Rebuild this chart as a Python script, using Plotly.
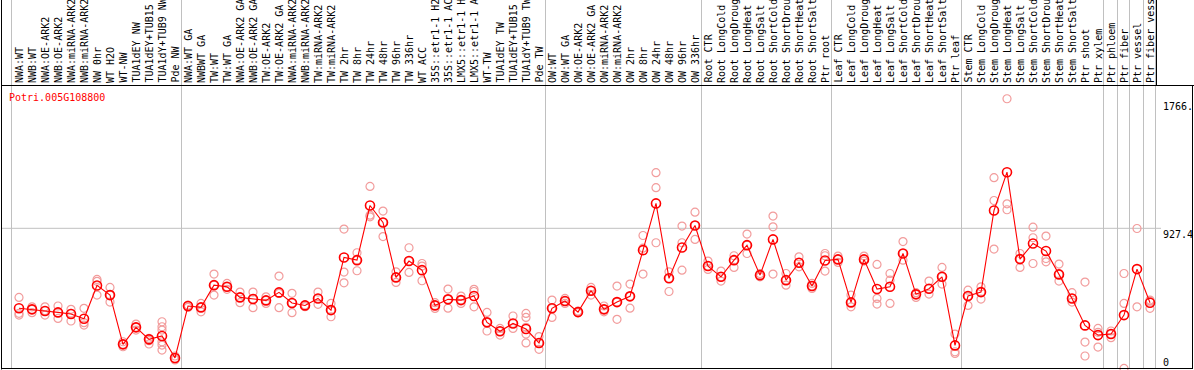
import plotly.graph_objects as go

# ---------------- data ----------------
title = "Potri.005G108800"

categories = [
    "NWA:WT", "NWB:WT", "NWA:OE-ARK2", "NWB:OE-ARK2", "NWA:miRNA-ARK2", "NWB:miRNA-ARK2",
    "NW 0hr", "WT H2O", "WT-NW", "TUA1dEY NW", "TUA1dEY+TUB15 NW", "TUA1dY+TUB9 NW", "Pde NW",
    "NWA:WT GA", "NWBWT GA", "TW:WT", "TW:WT GA", "NWA:OE-ARK2 GA", "NWB:OE-ARK2 GA",
    "TW:OE-ARK2", "TW:OE-ARK2 GA", "NWA:miRNA-ARK2 GA", "NWB:miRNA-ARK2 GA", "TW:miRNA-ARK2",
    "TW:miRNA-ARK2 GA", "TW 2hr", "TW 8hr", "TW 24hr", "TW 48hr", "TW 96hr", "TW 336hr",
    "WT ACC", "35S::etr1-1 H2O", "35S::etr1-1 ACC", "LMX5::etr1-1 H2O", "LMX5::etr1-1 ACC",
    "WT-TW", "TUA1dEY TW", "TUA1dEY+TUB15 TW", "TUA1dY+TUB9 TW", "Pde TW",
    "OW:WT", "OW:WT GA", "OW:OE-ARK2", "OW:OE-ARK2 GA", "OW:miRNA-ARK2", "OW:miRNA-ARK2 GA",
    "OW 2hr", "OW 8hr", "OW 24hr", "OW 48hr", "OW 96hr", "OW 336hr",
    "Root CTR", "Root LongCold", "Root LongDrought", "Root LongHeat", "Root LongSalt",
    "Root ShortCold", "Root ShortDrought", "Root ShortHeat", "Root ShortSalt", "Ptr root",
    "Leaf CTR", "Leaf LongCold", "Leaf LongDrought", "Leaf LongHeat", "Leaf LongSalt",
    "Leaf ShortCold", "Leaf ShortDrought", "Leaf ShortHeat", "Leaf ShortSalt", "Ptr leaf",
    "Stem CTR", "Stem LongCold", "Stem LongDrought", "Stem LongHeat", "Stem LongSalt",
    "Stem ShortCold", "Stem ShortDrought", "Stem ShortHeat", "Stem ShortSalt", "Ptr shoot",
    "Ptr xylem", "Ptr phloem", "Ptr fiber", "Ptr vessel", "Ptr fiber vessel",
]

means = [
    399, 392, 381, 372, 361, 330, 550, 486, 161, 273, 194, 216, 71,
    414, 405, 552, 541, 471, 460, 451, 504, 434, 418, 464, 387, 735, 717, 1078, 966, 603, 711,
    651, 418, 458, 453, 480, 306, 247, 299, 262, 170,
    399, 447, 374, 515, 392, 440, 478, 783, 1092, 597, 801, 946,
    678, 607, 717, 816, 618, 854, 585, 700, 546, 715,
    722, 438, 722, 526, 541, 761, 491, 528, 607, 154,
    480, 506, 1045, 1298, 724, 827, 777, 623, 464, 286, 222, 229, 354, 658, 436,
]

replicates = [
    [471, 366, 354], [409, 392, 370], [409, 383, 354], [414, 370, 332], [392, 366, 315],
    [399, 304, 288], [590, 577, 486], [537, 486, 440], [178, 161, 145], [295, 273, 255],
    [200, 185, 163], [310, 277, 255, 178, 156, 123], [84, 66, 58],
    [420, 414, 405], [431, 405, 376], [625, 552, 486], [563, 541, 524], [506, 471, 436],
    [506, 460, 403], [475, 451, 431], [612, 497, 403], [498, 434, 370], [420, 418, 410],
    [506, 464, 425], [431, 387, 343], [922, 638, 567], [766, 717, 647], [1204, 1014, 1003],
    [1041, 966, 873], [640, 603, 570], [799, 711, 636], [695, 678, 581], [436, 418, 398],
    [526, 458, 400], [480, 453, 431], [524, 510, 409], [372, 306, 249], [266, 247, 222],
    [348, 299, 266], [365, 339, 273, 229, 170], [212, 170, 128],
    [453, 399, 339], [464, 447, 431], [380, 374, 370], [537, 515, 486], [414, 392, 376],
    [546, 440, 326], [559, 478, 400], [880, 796, 625], [1295, 1196, 832], [640, 597, 510],
    [942, 832, 651], [1034, 946, 854],
    [711, 678, 656], [645, 607, 579], [746, 717, 669], [889, 816, 761], [629, 618, 607],
    [1008, 937, 625], [629, 585, 552], [739, 700, 673], [563, 546, 530], [761, 746, 645],
    [744, 722, 702], [486, 438, 409], [744, 722, 711], [689, 464, 427], [629, 585, 431],
    [840, 761, 717], [502, 491, 471], [579, 528, 493], [669, 607, 559], [229, 112, 101],
    [519, 480, 418], [541, 506, 460], [1262, 1111, 790], [1783, 1089, 1050], [761, 724, 669],
    [935, 865, 695], [876, 728, 706], [691, 623, 579], [502, 464, 440], [572, 176, 84],
    [266, 240, 143], [249, 229, 205], [629, 431, 2], [926, 409], [453, 446, 399],
]

# group separators drawn after these category indices
separators_after = [-1, 12, 40, 52, 62, 72, 83, 84, 85, 86, 87]

y_tick_values = [1766, 927.4, 0]
y_tick_labels = ["1766.", "927.4", "0"]

# ---------------- figure ----------------
W, H = 1194, 370
FONT = "DejaVu Sans Mono"


def fx(px):
    return px / W


def fy(py):
    return 1 - py / H


n = len(categories)
idx = list(range(n))

rx, ry = [], []
for i, reps in enumerate(replicates):
    for v in reps:
        rx.append(i)
        ry.append(v)

fig = go.Figure()
fig.add_trace(go.Scatter(
    x=rx, y=ry, mode="markers", hoverinfo="skip",
    marker=dict(symbol="circle-open", size=8, color="#f29c9c", line=dict(width=1.2, color="#f29c9c")),
))
fig.add_trace(go.Scatter(
    x=idx, y=means, mode="lines+markers",
    line=dict(color="#ff0000", width=1.1),
    marker=dict(symbol="circle-open", size=9, color="#ff0000", line=dict(width=1.6, color="#ff0000")),
))

# pixel mapping: category i at x = 19 + 13 i ; value 0 at y=368.7, 927.4 at y=228.3
x0 = -19 / 13
x1 = x0 + W / 13
span = 927.4 * H / (368.7 - 228.3)
ylo = -(H - 368.7) * span / H
yhi = ylo + span

shapes = []
line_gray = dict(color="#c0c0c0", width=1)
line_black = dict(color="#000000", width=1)
# vertical separators
for s in separators_after:
    xpx = round(19 + 13 * (s + 0.5)) - 0.5
    shapes.append(dict(type="line", xref="paper", yref="paper", x0=fx(xpx), x1=fx(xpx),
                       y0=fy(0), y1=fy(368.5), line=line_gray, layer="below"))
# horizontal grid at 927.4
shapes.append(dict(type="line", xref="paper", yref="y", x0=fx(1), x1=fx(1161),
                   y0=927.4, y1=927.4, line=line_gray, layer="below"))
# frame
shapes += [
    dict(type="line", xref="paper", yref="paper", x0=fx(1.5), x1=fx(1.5), y0=fy(0), y1=fy(369.5), line=line_black),
    dict(type="line", xref="paper", yref="paper", x0=fx(1), x1=fx(1194), y0=fy(85.5), y1=fy(85.5), line=line_black),
    dict(type="line", xref="paper", yref="paper", x0=fx(1), x1=fx(1193), y0=fy(368.5), y1=fy(368.5), line=line_black),
    dict(type="line", xref="paper", yref="paper", x0=fx(1192.5), x1=fx(1192.5), y0=fy(85.5), y1=fy(369), line=line_black),
    dict(type="line", xref="paper", yref="paper", x0=fx(1156.5), x1=fx(1156.5), y0=fy(0), y1=fy(85.5), line=line_black),
]

annotations = []
for i, lab in enumerate(categories):
    annotations.append(dict(
        x=i, xref="x", y=fy(84), yref="paper", text=lab, textangle=-90,
        showarrow=False, xanchor="center", yanchor="bottom",
        font=dict(family=FONT, size=10, color="#000000"), borderpad=0,
    ))
annotations.append(dict(
    x=fx(8), y=fy(97), xref="paper", yref="paper", text=title, showarrow=False,
    xanchor="left", yanchor="middle", font=dict(family=FONT, size=10, color="#ff0000"), borderpad=0,
))
label_y = {"1766.": 107, "927.4": 234.5, "0": 362}
for v, lab in zip(y_tick_values, y_tick_labels):
    annotations.append(dict(
        x=fx(1162), y=fy(label_y[lab]), xref="paper", yref="paper", text=lab, showarrow=False,
        xanchor="left", yanchor="middle", font=dict(family=FONT, size=10, color="#000000"), borderpad=0,
    ))

fig.update_layout(
    width=W, height=H, margin=dict(l=0, r=0, t=0, b=0),
    paper_bgcolor="white", plot_bgcolor="white", showlegend=False,
    xaxis=dict(range=[x0, x1], visible=False, fixedrange=True),
    yaxis=dict(range=[ylo, yhi], visible=False, fixedrange=True),
    shapes=shapes, annotations=annotations,
)

fig.write_html(
    "out.html",
    config={"displayModeBar": False},
    post_script="document.body.style.margin='0';document.body.style.overflow='hidden';",
)
